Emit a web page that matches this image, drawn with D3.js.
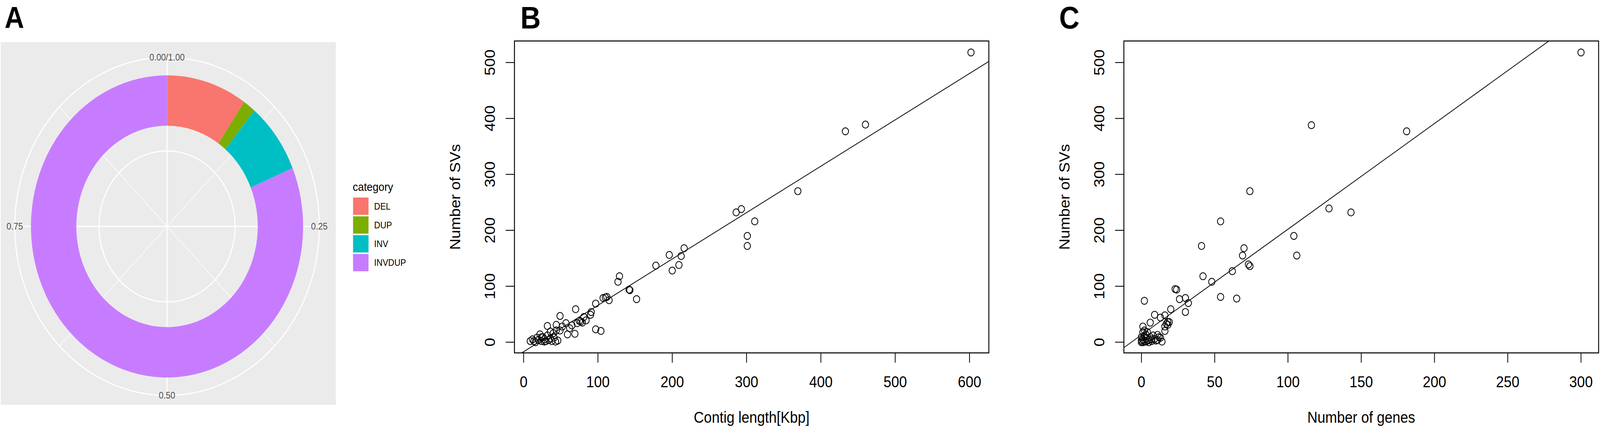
<!DOCTYPE html>
<html><head><meta charset="utf-8">
<script src="https://cdn.jsdelivr.net/npm/d3@7"></script>
<style>html,body{margin:0;padding:0;background:#fff;overflow:hidden;width:100%;height:100%;} svg{display:block;width:100vw;height:100vh;}</style>
</head><body>
<script>
// ---------------- DATA ----------------
const categories = ["DEL", "DUP", "INV", "INVDUP"];
const proportions = [0.096, 0.015, 0.076, 0.813];
const categoryColors = ["#F8766D", "#7CAE00", "#00BFC4", "#C77CFF"];
const thetaTickValues = [0, 0.25, 0.5, 0.75];
const thetaTickLabels = ["0.00/1.00", "0.25", "0.50", "0.75"];
const thetaMinorValues = [0.125, 0.375, 0.625, 0.875];

// Panel B: contig length (Kbp) vs number of SVs
const contigLength = [602, 460, 433, 369, 286, 293, 311, 301, 301, 216, 196, 212, 209, 200, 178, 129, 127, 142, 143, 152,
  110, 112, 115, 107, 97, 91, 90, 97, 104, 81, 79, 77, 70, 49, 32, 44, 57, 52, 49, 59, 69, 72, 22, 26, 32, 36, 41, 43,
  38, 30, 14, 12, 16, 24, 28, 40, 44, 36, 24, 9, 20, 34, 46, 18, 28, 65, 75, 84, 62];
const svsB = [518, 389, 377, 270, 232, 238, 216, 190, 172, 168, 156, 154, 138, 128, 137, 118, 108, 94, 93, 77,
  80, 81, 75, 79, 69, 54, 49, 23, 20, 45, 35, 37, 59, 47, 29, 31, 34, 28, 21, 14, 15, 34, 14, 9, 12, 7, 8, 1,
  2, 2, 2, 5, 0, 2, 1, 16, 21, 19, 9, 2, 4, 4, 3, 8, 5, 30, 38, 39, 25];

// Panel C: number of genes vs number of SVs
const geneCount = [300, 116, 181, 74, 54, 128, 143, 104, 106, 41, 70, 69, 73, 74, 62, 42, 48, 23, 24, 54, 65, 26, 30, 32,
  30, 20, 16, 18, 18, 16, 13, 2, 1, 2, 6, 9, 13, 17, 16, 19, 12, 11, 1, 2, 5, 7, 0, 3, 6, 9, 1, 0, 10, 1, 4, 3, 8, 2,
  5, 0, 3, 7, 11, 14, 4];
const svsC = [518, 388, 377, 270, 216, 239, 232, 190, 155, 172, 168, 155, 139, 136, 127, 118, 108, 95, 94, 81, 78, 77, 79, 70,
  54, 59, 48, 36, 31, 20, 8, 74, 28, 21, 35, 49, 44, 33, 28, 36, 9, 13, 5, 1, 0, 2, 9, 14, 9, 6, 0, 0, 3, 18, 3, 7, 12, 11,
  4, 3, 1, 5, 4, 1, 18];

const bXTicks = [0, 100, 200, 300, 400, 500, 600];
const cXTicks = [0, 50, 100, 150, 200, 250, 300];
const yTicks = [0, 100, 200, 300, 400, 500];
const fitB = { intercept: -17, slope: 0.829 };
const fitC = { intercept: 13, slope: 1.89 };

// ---------------- DRAW ----------------
const W = 4550, H = 1099;
const FONT = '"Liberation Sans", Arial, Helvetica, sans-serif';
const svg = d3.select("body").append("svg")
  .attr("viewBox", `0 0 ${W} ${H}`).attr("preserveAspectRatio", "none")
  .style("font-family", FONT);
svg.append("rect").attr("width", W).attr("height", H).attr("fill", "#fff");

// ---- Panel A ----
svg.append("text").attr("x", 13).attr("y", 72).attr("font-size", 77).attr("font-weight", "bold").text("A");
const gA = svg.append("g");
gA.append("rect").attr("x", 2).attr("y", 108).attr("width", 953).attr("height", 929).attr("fill", "#EBEBEB");
const cx = 475, cy = 580;
const rScale = d3.scaleLinear().domain([-0.5, 2.5]).range([0, 387]); // radial position (ggplot x)
const rOuterGrid = 433;
const theta = t => t * 2 * Math.PI;
const gP = gA.append("g").attr("transform", `translate(${cx},${cy})`);
gP.selectAll("line.minor").data(thetaMinorValues).join("line")
  .attr("x1", 0).attr("y1", 0)
  .attr("x2", t => rOuterGrid * Math.sin(theta(t))).attr("y2", t => -rOuterGrid * Math.cos(theta(t)))
  .attr("stroke", "#fff").attr("stroke-width", 1.5);
gP.selectAll("line.major").data(thetaTickValues).join("line")
  .attr("x1", 0).attr("y1", 0)
  .attr("x2", t => rOuterGrid * Math.sin(theta(t))).attr("y2", t => -rOuterGrid * Math.cos(theta(t)))
  .attr("stroke", "#fff").attr("stroke-width", 3);
gP.selectAll("circle.grid").data([rScale(1), rOuterGrid]).join("circle")
  .attr("r", d => d).attr("fill", "none").attr("stroke", "#fff").attr("stroke-width", 3);
const pie = d3.pie().sort(null).value(d => d)(proportions);
const arc = d3.arc().innerRadius(rScale(1.5)).outerRadius(rScale(2.5));
gP.selectAll("path.slice").data(pie).join("path")
  .attr("d", arc).attr("fill", (d, i) => categoryColors[i]);
gP.selectAll("text.theta").data(thetaTickValues).join("text")
  .attr("x", t => rOuterGrid * Math.sin(theta(t)))
  .attr("y", t => -rOuterGrid * Math.cos(theta(t)))
  .attr("dy", "0.35em").attr("text-anchor", "middle")
  .attr("font-size", 24).attr("fill", "#4D4D4D")
  .text((t, i) => thetaTickLabels[i]);

// legend
const gL = svg.append("g");
gL.append("text").attr("x", 1003).attr("y", 489).attr("font-size", 30).attr("fill", "#000").text("category");
const keyY = d3.scaleBand().domain(categories).range([506, 695]).paddingInner(0.08);
categories.forEach((c, i) => {
  gL.append("rect").attr("x", 1004).attr("y", keyY(c)).attr("width", 44).attr("height", keyY.bandwidth())
    .attr("fill", categoryColors[i]);
  gL.append("text").attr("x", 1064).attr("y", keyY(c) + keyY.bandwidth() / 2).attr("dy", "0.36em")
    .attr("font-size", 24).attr("fill", "#000").text(c);
});

// ---- Scatter panels ----
function scatterPanel(o) {
  const top = 105, bottom = 904;
  const x = d3.scaleLinear().domain(o.xDomain).range([o.left, o.right]);
  const y = d3.scaleLinear().domain([-19.1, 538.5]).range([bottom, top]);
  const g = svg.append("g");
  const clipId = "clip" + o.letter;
  g.append("clipPath").attr("id", clipId).append("rect")
    .attr("x", o.left).attr("y", top).attr("width", o.right - o.left).attr("height", bottom - top);
  const [x0, x1] = o.xDomain;
  g.append("line").attr("clip-path", `url(#${clipId})`)
    .attr("x1", x(x0)).attr("y1", y(o.fit.intercept + o.fit.slope * x0))
    .attr("x2", x(x1)).attr("y2", y(o.fit.intercept + o.fit.slope * x1))
    .attr("stroke", "#000").attr("stroke-width", 2);
  g.selectAll("circle.pt").data(o.xs.map((v, i) => [v, o.ys[i]])).join("circle")
    .attr("cx", d => x(d[0])).attr("cy", d => y(d[1])).attr("r", 9)
    .attr("fill", "none").attr("stroke", "#000").attr("stroke-width", 2.2);
  g.append("rect").attr("x", o.left).attr("y", top).attr("width", o.right - o.left).attr("height", bottom - top)
    .attr("fill", "none").attr("stroke", "#000").attr("stroke-width", 2.6);
  const tickLen = 25;
  g.selectAll("line.xt").data(o.xTicks).join("line")
    .attr("x1", d => x(d)).attr("x2", d => x(d)).attr("y1", bottom).attr("y2", bottom + tickLen)
    .attr("stroke", "#000").attr("stroke-width", 2.2);
  g.selectAll("text.xt").data(o.xTicks).join("text")
    .attr("x", d => x(d)).attr("y", 992).attr("text-anchor", "middle").attr("font-size", 40).text(d => d);
  g.selectAll("line.yt").data(yTicks).join("line")
    .attr("y1", d => y(d)).attr("y2", d => y(d)).attr("x1", o.left).attr("x2", o.left - tickLen)
    .attr("stroke", "#000").attr("stroke-width", 2.2);
  g.selectAll("text.yt").data(yTicks).join("text")
    .attr("transform", d => `translate(${o.left - 56},${y(d)}) rotate(-90)`)
    .attr("text-anchor", "middle").attr("font-size", 40).text(d => d);
  g.append("text").attr("x", (o.left + o.right) / 2).attr("y", 1083).attr("text-anchor", "middle")
    .attr("font-size", 40).text(o.xTitle);
  g.append("text").attr("transform", `translate(${o.left - 154},${(top + bottom) / 2}) rotate(-90)`)
    .attr("text-anchor", "middle").attr("font-size", 40).text("Number of SVs");
  svg.append("text").attr("x", o.letterX).attr("y", 73).attr("font-size", 80).attr("font-weight", "bold").text(o.letter);
}

scatterPanel({ letter: "B", letterX: 1480, left: 1463, right: 2812, xDomain: [-12.3, 626],
  xs: contigLength, ys: svsB, xTicks: bXTicks, fit: fitB, xTitle: "Contig length[Kbp]" });
scatterPanel({ letter: "C", letterX: 3012, left: 3196, right: 4546, xDomain: [-12, 312],
  xs: geneCount, ys: svsC, xTicks: cXTicks, fit: fitC, xTitle: "Number of genes" });
</script>
</body></html>
